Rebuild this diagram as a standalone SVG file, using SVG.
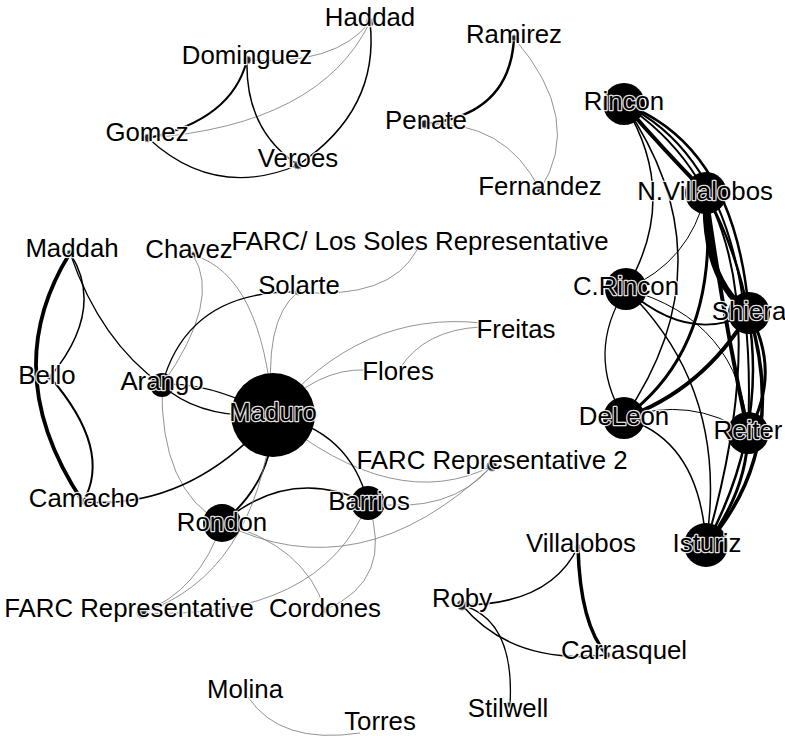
<svg xmlns="http://www.w3.org/2000/svg" width="785" height="736" viewBox="0 0 785 736">
  <style>
    .e { fill: none; stroke: #000; stroke-linecap: round; }
    .t { fill: none; stroke: #777; stroke-width: 0.8; }
    .big { fill: #000; }
    .sm { fill: #222; stroke: #999; stroke-width: 1; }
    text { font-family: "Liberation Sans", Arial, sans-serif; font-size: 25.8px; fill: #000;
           stroke: #fff; stroke-width: 2.5; stroke-opacity: 0.9; paint-order: stroke; stroke-linejoin: round; text-anchor: middle; }
  </style>
  <rect width="785" height="736" fill="#fff"/>

  <g id="edges">
    <!-- top-left group -->
    <path class="t" d="M247,60 Q335,66 370,22"/>
    <path class="t" d="M148,138 Q320,125 370,22"/>
    <path class="e" style="stroke-width:2" d="M148,138 Q232,120 247,60"/>
    <path class="e" style="stroke-width:1.5" d="M247,60 Q245,130 298,165"/>
    <path class="e" style="stroke-width:1.5" d="M298,165 Q380,110 370,22"/>
    <path class="e" style="stroke-width:1.2" d="M148,138 Q215,200 298,165"/>

    <!-- Penate group -->
    <path class="e" style="stroke-width:2.5" d="M425,124 Q510,115 514,38"/>
    <path class="t" d="M425,124 Q505,120 540,190"/>
    <path class="t" d="M514,38 Q585,120 540,190"/>

    <!-- right group -->
    <path class="e" style="stroke-width:4" d="M624,104 Q662,148 706,193"/>
    <path class="e" style="stroke-width:2.5" d="M624,104 Q735,145 749,313"/>
    <path class="e" style="stroke-width:2" d="M624,104 Q760,170 748,433"/>
    <path class="e" style="stroke-width:2" d="M624,104 Q800,220 706,545"/>
    <path class="e" style="stroke-width:1.5" d="M624,104 Q681,196 626,289"/>
    <path class="e" style="stroke-width:1.5" d="M624,104 Q732,261 624,418"/>
    <path class="e" style="stroke-width:6" d="M706,193 Q702,278 749,313"/>
    <path class="e" style="stroke-width:4" d="M706,193 Q722,310 748,433"/>
    <path class="e" style="stroke-width:2.5" d="M706,193 Q800,370 706,545"/>
    <path class="e" style="stroke-width:1" d="M706,193 Q690,262 626,289"/>
    <path class="e" style="stroke-width:3" d="M706,193 Q721,348 624,418"/>
    <path class="e" style="stroke-width:1.8" d="M626,289 Q690,345 749,313"/>
    <path class="e" style="stroke-width:1" d="M626,289 Q740,320 748,433"/>
    <path class="e" style="stroke-width:1.5" d="M626,289 Q730,390 706,545"/>
    <path class="e" style="stroke-width:1.3" d="M626,289 Q585,353 624,418"/>
    <path class="e" style="stroke-width:4" d="M624,418 Q703,390 749,313"/>
    <path class="e" style="stroke-width:1" d="M624,418 Q690,395 748,433"/>
    <path class="e" style="stroke-width:1.5" d="M624,418 Q700,440 706,545"/>
    <path class="e" style="stroke-width:3" d="M749,313 Q782,373 748,433"/>
    <path class="e" style="stroke-width:3.5" d="M749,313 Q790,450 706,545"/>
    <path class="e" style="stroke-width:3" d="M748,433 Q747,491 706,545"/>

    <!-- central group -->
    <path class="e" style="stroke-width:3.8" d="M70,253 Q-4,372 83,502"/>
    <path class="e" style="stroke-width:1.5" d="M70,253 Q106,309 50,377"/>
    <path class="e" style="stroke-width:2" d="M50,377 Q113,450 83,502"/>
    <path class="e" style="stroke-width:1.3" d="M70,253 Q100,341 162,385"/>
    <path class="t" d="M193,255 Q222,300 162,385"/>
    <path class="t" d="M193,255 Q262,275 273,415"/>
    <path class="e" style="stroke-width:1.3" d="M162,385 Q188,290 298,292"/>
    <path class="e" style="stroke-width:1.3" d="M162,385 Q205,380 273,415"/>
    <path class="e" style="stroke-width:1.3" d="M162,385 Q200,420 273,415"/>
    <path class="t" d="M162,385 Q160,490 222,523"/>
    <path class="e" style="stroke-width:1.5" d="M83,502 Q190,510 273,415"/>
    <path class="t" d="M298,292 Q262,320 273,415"/>
    <path class="t" d="M298,292 Q390,300 417,250"/>
    <path class="t" d="M273,415 Q360,310 482,323"/>
    <path class="t" d="M400,368 Q425,330 480,327"/>
    <path class="t" d="M273,415 Q318,368 365,370"/>
    <path class="t" d="M273,415 Q395,515 492,466"/>
    <path class="e" style="stroke-width:1.3" d="M273,415 Q350,430 368,503"/>
    <path class="e" style="stroke-width:1.8" d="M273,415 Q275,480 222,523"/>
    <path class="e" style="stroke-width:1.5" d="M222,523 Q290,465 368,503"/>
    <path class="t" d="M368,503 Q450,515 492,466"/>
    <path class="t" d="M222,523 Q360,592 492,466"/>
    <path class="t" d="M222,523 Q200,590 142,613"/>
    <path class="t" d="M273,415 Q255,575 142,613"/>
    <path class="t" d="M368,503 Q320,620 142,613"/>
    <path class="t" d="M222,523 Q305,545 325,610"/>
    <path class="t" d="M368,503 Q395,580 325,610"/>

    <!-- lower-right group -->
    <path class="e" style="stroke-width:1.5" d="M462,605 Q550,605 578,547"/>
    <path class="e" style="stroke-width:3.5" d="M578,547 Q580,625 607,655"/>
    <path class="e" style="stroke-width:1.5" d="M462,605 Q512,665 607,655"/>
    <path class="e" style="stroke-width:1.3" d="M462,605 Q515,620 510,705"/>

    <path class="t" d="M248,697 Q280,745 360,733"/>
  </g>

  <g id="n-haddad"><circle class="sm" cx="370" cy="22" r="4"/><text x="370" y="26">Haddad</text></g>
  <g id="n-dominguez"><circle class="sm" cx="247" cy="60" r="4"/><text x="247" y="64">Dominguez</text></g>
  <g id="n-gomez"><circle class="sm" cx="148" cy="138" r="4"/><text x="147" y="141">Gomez</text></g>
  <g id="n-veroes"><circle class="sm" cx="298" cy="165" r="4"/><text x="298" y="167">Veroes</text></g>
  <g id="n-ramirez"><circle class="sm" cx="514" cy="38" r="3"/><text x="514" y="43">Ramirez</text></g>
  <g id="n-penate"><circle class="sm" cx="425" cy="124" r="4"/><text x="426" y="129">Penate</text></g>
  <g id="n-fernandez"><circle class="sm" cx="540" cy="190" r="3"/><text x="540" y="195">Fernandez</text></g>

  <g id="n-rincon"><circle class="big" cx="624" cy="104" r="21"/><text x="624" y="110">Rincon</text></g>
  <g id="n-nvillalobos"><circle class="big" cx="706" cy="193" r="21"/><text x="705" y="200">N.Villalobos</text></g>
  <g id="n-crincon"><circle class="big" cx="626" cy="289" r="21"/><text x="626" y="295">C.Rincon</text></g>
  <g id="n-shiera"><circle class="big" cx="749" cy="313" r="21"/><text x="749" y="320">Shiera</text></g>
  <g id="n-deleon"><circle class="big" cx="624" cy="418" r="21"/><text x="624" y="425">DeLeon</text></g>
  <g id="n-reiter"><circle class="big" cx="748" cy="433" r="21"/><text x="748" y="439">Reiter</text></g>
  <g id="n-isturiz"><circle class="big" cx="706" cy="545" r="22"/><text x="707" y="552">Isturiz</text></g>

  <g id="n-maddah"><circle class="sm" cx="70" cy="253" r="3"/><text x="72" y="257">Maddah</text></g>
  <g id="n-chavez"><circle class="sm" cx="193" cy="255" r="3"/><text x="189" y="258">Chavez</text></g>
  <g id="n-bello"><circle class="sm" cx="50" cy="377" r="3"/><text x="47" y="384">Bello</text></g>
  <g id="n-camacho"><circle class="sm" cx="83" cy="502" r="3"/><text x="84" y="507">Camacho</text></g>
  <g id="n-arango"><circle class="big" cx="162" cy="385" r="12"/><text x="162" y="390">Arango</text></g>
  <g id="n-solarte"><circle class="sm" cx="298" cy="292" r="3"/><text x="299" y="294">Solarte</text></g>
  <g id="n-farc-lossoles"><circle class="sm" cx="417" cy="248" r="2"/><text x="420" y="250">FARC/ Los Soles Representative</text></g>
  <g id="n-freitas"><text x="516" y="338">Freitas</text></g>
  <g id="n-flores"><text x="398" y="380">Flores</text></g>
  <g id="n-maduro"><circle class="big" cx="273" cy="415" r="42"/><text x="273" y="421">Maduro</text></g>
  <g id="n-farc-rep2"><circle class="sm" cx="492" cy="466" r="5"/><text x="492" y="469">FARC Representative 2</text></g>
  <g id="n-barrios"><circle class="big" cx="368" cy="503" r="17"/><text x="369" y="510">Barrios</text></g>
  <g id="n-rondon"><circle class="big" cx="222" cy="523" r="19"/><text x="222" y="531">Rondon</text></g>
  <g id="n-farc-rep"><circle class="sm" cx="142" cy="613" r="5"/><text x="129" y="617">FARC Representative</text></g>
  <g id="n-cordones"><circle class="sm" cx="325" cy="610" r="3"/><text x="325" y="617">Cordones</text></g>

  <g id="n-roby"><circle class="sm" cx="462" cy="605" r="5"/><text x="462" y="607">Roby</text></g>
  <g id="n-villalobos"><circle class="sm" cx="578" cy="547" r="3"/><text x="581" y="552">Villalobos</text></g>
  <g id="n-carrasquel"><circle class="sm" cx="607" cy="655" r="3"/><text x="624" y="659">Carrasquel</text></g>
  <g id="n-stilwell"><circle class="sm" cx="510" cy="705" r="3"/><text x="508" y="717">Stilwell</text></g>
  <g id="n-molina"><text x="245" y="698">Molina</text></g>
  <g id="n-torres"><text x="380" y="730">Torres</text></g>
</svg>
